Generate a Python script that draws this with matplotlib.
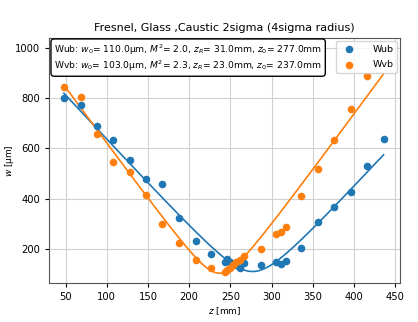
import numpy as np
import matplotlib
matplotlib.use("Agg")
import matplotlib.pyplot as plt

# measured positions [mm]
z_ub = [48, 69, 88, 108, 128, 148, 167, 188, 208, 227, 243, 246, 250, 253, 257, 262, 267,
        287, 306, 311, 317, 336, 356, 376, 396, 416, 436]
w_ub = [800, 775, 688, 633, 556, 479, 457, 325, 230, 180, 147, 160, 147, 140, 135, 125, 145,
        135, 149, 141, 151, 204, 308, 367, 428, 529, 636]

z_vb = [48, 69, 88, 108, 128, 148, 167, 188, 208, 227, 243, 246, 250, 253, 257, 262, 267,
        287, 306, 311, 317, 336, 356, 376, 396, 416]
w_vb = [843, 805, 659, 547, 507, 413, 299, 224, 156, 124, 108, 115, 125, 135, 148, 157, 172,
        199, 259, 267, 287, 412, 519, 633, 757, 888]

# fit parameters: w0 [um], M^2, zR [mm], z0 [mm]
fit_ub = [110.0, 2.0, 31.0, 277.0]
fit_vb = [103.0, 2.3, 23.0, 237.0]


def caustic(z, w0, zr, z0):
    return w0 * np.sqrt(1 + ((z - z0) / zr) ** 2)


fig = plt.figure(figsize=(4.18, 3.22), dpi=100)
ax = fig.add_axes([0.117, 0.121, 0.840, 0.761])

ax.scatter(z_ub, w_ub, s=20, color="tab:blue", label="Wub", zorder=3)
ax.scatter(z_vb, w_vb, s=20, color="tab:orange", label="Wvb", zorder=3)

zz = np.linspace(min(z_ub), max(z_ub), 300)
ax.plot(zz, caustic(zz, fit_ub[0], fit_ub[2], fit_ub[3]), color="tab:blue", lw=1.2)
ax.plot(zz, caustic(zz, fit_vb[0], fit_vb[2], fit_vb[3]), color="tab:orange", lw=1.2)

ax.set_xlim(29.8, 456)
ax.set_ylim(64, 1040)
ax.set_xticks([50, 100, 150, 200, 250, 300, 350, 400, 450])
ax.set_yticks([200, 400, 600, 800, 1000])
ax.tick_params(labelsize=7.2, length=3)
ax.grid(True, color="#d0d0d0", lw=0.8)
for sp in ax.spines.values():
    sp.set_color("#555555")

ax.set_title("Fresnel, Glass ,Caustic 2sigma (4sigma radius)", fontsize=8, pad=5)
ax.set_xlabel("$z$ [mm]", fontsize=6.5, labelpad=2)
ax.set_ylabel("$w$ [µm]", fontsize=6.5)
ax.yaxis.set_label_coords(-0.095, 0.5)

txt = ("Wub: $w_0$= %.1fµm, $M^2$= %.1f, $z_R$= %.1fmm, $z_0$= %.1fmm\n"
       "Wvb: $w_0$= %.1fµm, $M^2$= %.1f, $z_R$= %.1fmm, $z_0$= %.1fmm"
       % (fit_ub[0], fit_ub[1], fit_ub[2], fit_ub[3],
          fit_vb[0], fit_vb[1], fit_vb[2], fit_vb[3]))
ax.text(0.015, 0.983, txt, transform=ax.transAxes, fontsize=6.6, va="top", ha="left",
        linespacing=1.2,
        bbox=dict(boxstyle="round,pad=0.35", facecolor="white", edgecolor="black", lw=1))

ax.legend(loc="upper right", fontsize=6.8, framealpha=0.8, handletextpad=1.5,
          borderpad=0.4, labelspacing=0.7, borderaxespad=0.3)

fig.savefig("out.png", dpi=100)
